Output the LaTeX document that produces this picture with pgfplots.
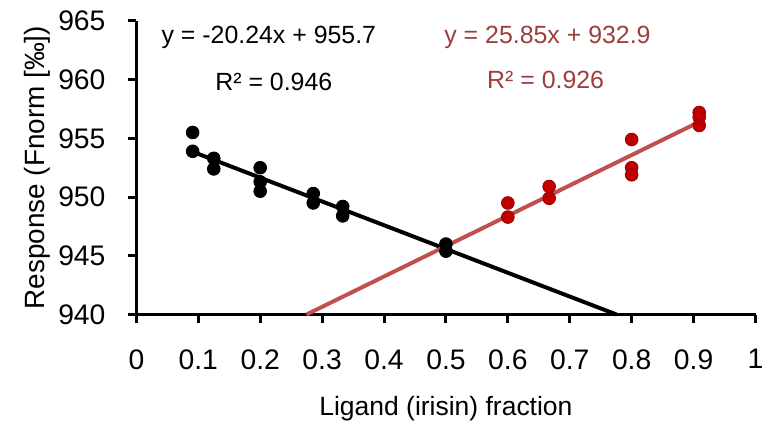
\documentclass[border=0pt]{standalone}
\usepackage{pgfplots}
\pgfplotsset{compat=1.18}
\usepackage{fontspec}
\setmainfont{Liberation Sans}
\definecolor{trendred}{RGB}{192,80,77}
\definecolor{dotred}{RGB}{192,0,0}
\definecolor{txtred}{RGB}{155,62,62}
\begin{document}
\begin{tikzpicture}
\begin{axis}[scale only axis, width=311pt, height=147.5pt,
  xmin=0, xmax=1, ymin=940, ymax=965,
  xtick={0,0.1,...,1}, ytick={940,945,...,965},
  xticklabels={0,0.1,0.2,0.3,0.4,0.5,0.6,0.7,0.8,0.9,1},
  axis lines=left, axis line style={-, line width=1.5pt},
  tick align=outside, major tick length=4pt, tick style={line width=1.5pt, black},
  font=\fontsize{12.5}{15}\selectfont,
  tick label style={font=\fontsize{14.2}{16}\selectfont},
  /pgf/number format/assume math mode=true,
  xticklabel style={yshift=-10pt},
  yticklabel style={xshift=-8pt},
  xlabel={Ligand (irisin) fraction}, ylabel={Response (Fnorm [‰])},
  xlabel style={yshift=-6.5pt, font=\fontsize{13.3}{15}\selectfont},
  ylabel style={font=\fontsize{14}{16}\selectfont, yshift=-3pt},
  clip=false]
\coordinate (o) at (rel axis cs:0,0);
\addplot[only marks, mark=*, mark size=3.2pt, black] coordinates {
  (0.0909,955.5) (0.0909,953.9) (0.125,953.3) (0.125,952.4)
  (0.2,952.5) (0.2,951.3) (0.2,950.5) (0.2857,950.3) (0.2857,949.5)
  (0.3333,949.2) (0.3333,948.4) (0.5,946.0) (0.5,945.4)};
\addplot[only marks, mark=*, mark size=3.2pt, draw=dotred!80!black, fill=dotred] coordinates {
  (0.6,949.5) (0.6,948.3) (0.6667,950.9) (0.6667,949.9)
  (0.8,954.9) (0.8,952.5) (0.8,951.9)
  (0.9091,957.2) (0.9091,956.8) (0.9091,956.1)};
\addplot[black, line width=2pt, no marks] coordinates {(0.0909,953.86) (0.7757,940)};
\addplot[trendred, line width=2pt, no marks] coordinates {(0.2747,940) (0.9091,956.40)};
\node[black] at (axis cs:0.214,963.6) {y = -20.24x + 955.7};
\node[black] at (axis cs:0.222,959.8) {R² = 0.946};
\node[txtred] at (axis cs:0.664,963.6) {y = 25.85x + 932.9};
\node[txtred] at (axis cs:0.661,960.0) {R² = 0.926};
\end{axis}
\useasboundingbox ([shift={(-68.5pt,-58.5pt)}]o) rectangle ++(385pt,216.5pt);
\end{tikzpicture}
\end{document}
